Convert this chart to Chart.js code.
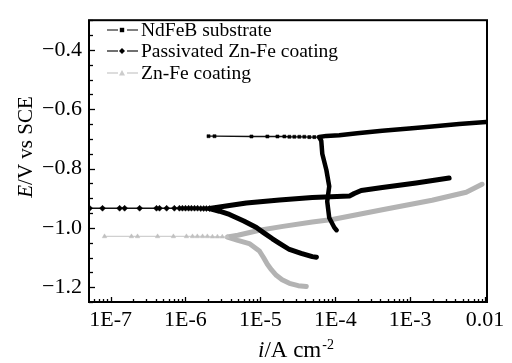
<!DOCTYPE html>
<html><head><meta charset="utf-8">
<script src="https://cdn.jsdelivr.net/npm/chart.js@4.4.0/dist/chart.umd.min.js"></script>
<style>html,body{margin:0;padding:0;background:#fff}</style>
</head><body>
<canvas id="c" width="512" height="363" style="display:block;width:512px;height:363px"></canvas>
<script>
// ---- Data (current density i in A/cm2, potential E in V vs SCE) ----
const seriesNames = ['NdFeB substrate', 'Passivated Zn-Fe coating', 'Zn-Fe coating'];

// NdFeB substrate: polarization branch (cathodic bottom -> Ecorr -> anodic)
const ndfebI = [1.04e-4, 9.7e-5, 8.3e-5, 7.8e-5, 8.3e-5, 7.6e-5, 6.7e-5, 6.5e-5, 6.1e-5,
                7.6e-5, 1.13e-4, 1.96e-4, 4.24e-4, 9.7e-4, 1.96e-3, 4.5e-3, 1.03e-2];
const ndfebE = [-1.008, -0.999, -0.966, -0.911, -0.860, -0.805, -0.750, -0.707, -0.694,
                -0.690, -0.688, -0.681, -0.673, -0.665, -0.658, -0.650, -0.643];
// NdFeB substrate: plateau near Ecorr
const ndfebFlatI = [2.03e-6, 2.44e-6, 7.6e-6, 1.24e-5, 1.69e-5, 2.09e-5, 2.44e-5, 2.84e-5,
                    3.31e-5, 3.86e-5, 4.5e-5, 5.25e-5, 6.1e-5];
const ndfebFlatE = [-0.691, -0.691, -0.692, -0.692, -0.692, -0.692, -0.693, -0.693,
                    -0.693, -0.693, -0.694, -0.694, -0.694];

// Passivated Zn-Fe coating
const passI = [5.6e-5, 4.93e-5, 3.5e-5, 2.44e-5, 1.8e-5, 1.45e-5, 1.1e-5, 8.85e-6, 6.0e-6, 3.86e-6, 2.84e-6, 2.09e-6,
               3.86e-6, 6.5e-6, 1.8e-5, 4.93e-5, 1.54e-4, 1.79e-4, 2.22e-4, 4.24e-4, 1.2e-3, 3.31e-3];
const passE = [-1.099, -1.097, -1.086, -1.073, -1.052, -1.037, -1.016, -0.999, -0.977, -0.955, -0.944, -0.935,
               -0.925, -0.916, -0.906, -0.898, -0.893, -0.884, -0.874, -0.864, -0.849, -0.832];
const passFlatI = [5.25e-8, 7.8e-8, 1.32e-7, 1.54e-7, 2.44e-7, 4.1e-7, 4.5e-7, 5.6e-7, 7.1e-7,
                   8.3e-7, 9.1e-7, 1.0e-6, 1.1e-6, 1.2e-6, 1.32e-6, 1.45e-6, 1.6e-6, 1.75e-6, 1.9e-6, 2.09e-6];
const passFlatE = [-0.934, -0.934, -0.934, -0.934, -0.934, -0.934, -0.934, -0.934, -0.934,
                   -0.934, -0.934, -0.934, -0.934, -0.934, -0.934, -0.934, -0.935, -0.935, -0.935, -0.935];

// Zn-Fe coating
const znfeI = [4.1e-5, 3.2e-5, 2.44e-5, 1.95e-5, 1.63e-5, 1.4e-5, 1.24e-5, 1.1e-5, 9.7e-6, 7.1e-6, 5.0e-6, 3.63e-6,
               5.0e-6, 9.7e-6, 2.0e-5, 4.93e-5, 9.1e-5, 4.24e-4, 1.96e-3, 5.6e-3, 9.1e-3];
const znfeE = [-1.198, -1.195, -1.187, -1.175, -1.160, -1.141, -1.123, -1.100, -1.078, -1.053, -1.042, -1.031,
               -1.025, -1.008, -0.995, -0.980, -0.972, -0.939, -0.907, -0.880, -0.853];
const znfeFlatI = [8.3e-8, 1.9e-7, 2.29e-7, 4.24e-7, 6.9e-7, 1.03e-6, 1.24e-6, 1.44e-6, 1.69e-6,
                   1.96e-6, 2.29e-6, 2.67e-6, 3.1e-6, 3.63e-6];
const znfeFlatE = [-1.029, -1.029, -1.029, -1.029, -1.029, -1.029, -1.029, -1.029, -1.029,
                   -1.029, -1.030, -1.030, -1.030, -1.031];

// Axis ranges and labels
const xMin = 5.15e-8, xMax = 1.06e-2;
const yMin = -1.25, yMax = -0.3, yStep = 0.05;
const yLabelValues = [-0.4, -0.6, -0.8, -1.0, -1.2];

// ---- Chart ----
const pts = (I, E) => I.map((v, k) => ({ x: v, y: E[k] }));
const SERIF = "'Liberation Serif', 'Times New Roman', serif";

function isLogTick(v) {
  const e = Math.floor(Math.log10(v) + 1e-9);
  const m = v / Math.pow(10, e);
  return Math.abs(m - Math.round(m)) < 1e-6;
}
function isDecade(v) {
  const e = Math.round(Math.log10(v));
  return Math.abs(v / Math.pow(10, e) - 1) < 1e-6;
}

const framePlugin = {
  id: 'frame',
  afterDraw(chart) {
    const { ctx, chartArea: a, scales } = chart;
    ctx.save();
    ctx.strokeStyle = '#000';
    // inward ticks
    ctx.lineWidth = 1.3;
    scales.y.ticks.forEach(t => {
      const py = Math.round(scales.y.getPixelForValue(t.value)) + 0.5;
      const major = yLabelValues.some(v => Math.abs(v - t.value) < 1e-6);
      ctx.beginPath(); ctx.moveTo(a.left, py); ctx.lineTo(a.left + (major ? 6 : 4), py); ctx.stroke();
    });
    scales.x.ticks.forEach(t => {
      const px = Math.round(scales.x.getPixelForValue(t.value)) + 0.5;
      const major = isDecade(t.value);
      ctx.beginPath(); ctx.moveTo(px, a.bottom); ctx.lineTo(px, a.bottom - (major ? 5 : 3)); ctx.stroke();
    });
    // frame
    ctx.lineWidth = 2;
    ctx.strokeRect(a.left, a.top, a.right - a.left, a.bottom - a.top);

    // axis titles
    ctx.fillStyle = '#000';
    ctx.textBaseline = 'alphabetic';
    // y title
    ctx.save();
    ctx.translate(32, 147);
    ctx.rotate(-Math.PI / 2);
    ctx.font = 'italic 21px ' + SERIF;
    const wE = ctx.measureText('E').width;
    ctx.font = '21px ' + SERIF;
    const wRest = ctx.measureText('/V vs SCE').width;
    let sx = -(wE + wRest) / 2;
    ctx.font = 'italic 21px ' + SERIF;
    ctx.fillText('E', sx, 0);
    ctx.font = '21px ' + SERIF;
    ctx.fillText('/V vs SCE', sx + wE, 0);
    ctx.restore();
    // x title
    let tx = 258, ty = 357;
    ctx.font = 'italic 23px ' + SERIF;
    ctx.fillText('i', tx, ty); tx += ctx.measureText('i').width;
    ctx.font = '23px ' + SERIF;
    ctx.fillText('/A cm', tx, ty); tx += ctx.measureText('/A cm').width;
    ctx.font = '14px ' + SERIF;
    ctx.fillText('-2', tx + 1, ty - 8);

    // legend
    const items = [
      { line: '#808080', color: '#000', style: 'square', r: 2.2 },
      { line: '#707070', color: '#000', style: 'diamond', r: 3 },
      { line: '#dddddd', color: '#cccccc', style: 'triangle', r: 3 }
    ];
    const rows = [30, 51, 73];
    items.forEach((it, k) => {
      const y = rows[k];
      ctx.strokeStyle = it.line; ctx.lineWidth = 2;
      ctx.beginPath(); ctx.moveTo(107, y); ctx.lineTo(118, y); ctx.moveTo(127, y); ctx.lineTo(138, y); ctx.stroke();
      ctx.fillStyle = it.color;
      ctx.beginPath();
      if (it.style === 'square') ctx.rect(122 - it.r, y - it.r, 2 * it.r, 2 * it.r);
      else if (it.style === 'diamond') { ctx.moveTo(122, y - it.r); ctx.lineTo(122 + it.r, y); ctx.lineTo(122, y + it.r); ctx.lineTo(122 - it.r, y); ctx.closePath(); }
      else { ctx.moveTo(122, y - it.r); ctx.lineTo(122 + it.r, y + it.r * 0.8); ctx.lineTo(122 - it.r, y + it.r * 0.8); ctx.closePath(); }
      ctx.fill();
      ctx.fillStyle = '#000';
      ctx.font = '19.5px ' + SERIF;
      ctx.textBaseline = 'middle';
      ctx.fillText(seriesNames[k], 141, y + 1);
      ctx.textBaseline = 'alphabetic';
    });
    ctx.restore();
  }
};

const thick = (label, I, E, color, w) => ({
  label, data: pts(I, E), showLine: true, borderColor: color, backgroundColor: color,
  borderWidth: w, pointRadius: 0, tension: 0, borderCapStyle: 'round', borderJoinStyle: 'round'
});
const flat = (label, I, E, color, lineColor, style, r) => ({
  label, data: pts(I, E), showLine: true, borderColor: lineColor, backgroundColor: color,
  pointBorderColor: color, pointBackgroundColor: color, borderWidth: 1.3,
  pointRadius: r, pointStyle: style, pointBorderWidth: 0.5, tension: 0
});

new Chart(document.getElementById('c'), {
  type: 'scatter',
  data: {
    datasets: [
      flat(seriesNames[0] + ' plateau', ndfebFlatI, ndfebFlatE, '#000', '#111', 'rect', 2.2),
      thick(seriesNames[0], ndfebI, ndfebE, '#000', 4.5),
      flat(seriesNames[1] + ' plateau', passFlatI, passFlatE, '#000', '#111', 'rectRot', 3),
      thick(seriesNames[1], passI, passE, '#000', 5),
      flat(seriesNames[2] + ' plateau', znfeFlatI, znfeFlatE, '#c0c0c0', '#d0d0d0', 'triangle', 2.6),
      thick(seriesNames[2], znfeI, znfeE, '#b3b3b3', 5)
    ]
  },
  options: {
    responsive: false,
    animation: false,
    devicePixelRatio: 1,
    layout: { padding: { top: 9, right: 25, left: 0, bottom: 0 } },
    plugins: { legend: { display: false }, tooltip: { enabled: false } },
    scales: {
      x: {
        type: 'logarithmic', position: 'bottom', min: xMin, max: xMax,
        grid: { display: false, drawTicks: false }, border: { display: false },
        afterBuildTicks: s => { s.ticks = s.ticks.filter(t => isLogTick(t.value)); },
        afterFit: s => { s.height = 61; },
        ticks: {
          autoSkip: false, maxRotation: 0, minRotation: 0, padding: 5, color: '#000',
          font: { family: SERIF, size: 22 },
          callback: v => isDecade(v) ? (Math.round(Math.log10(v)) === -2 ? '0.01' : '1E' + Math.round(Math.log10(v))) : ''
        }
      },
      y: {
        min: yMin, max: yMax,
        grid: { display: false, drawTicks: false }, border: { display: false },
        afterFit: s => { s.width = 89; },
        ticks: {
          stepSize: yStep, autoSkip: false, padding: 7, color: '#000',
          font: { family: SERIF, size: 22 },
          callback: v => yLabelValues.some(l => Math.abs(l - v) < 1e-6) ? '\u2212' + Math.abs(v).toFixed(1) : ''
        }
      }
    }
  },
  plugins: [framePlugin]
});
</script>
</body></html>
